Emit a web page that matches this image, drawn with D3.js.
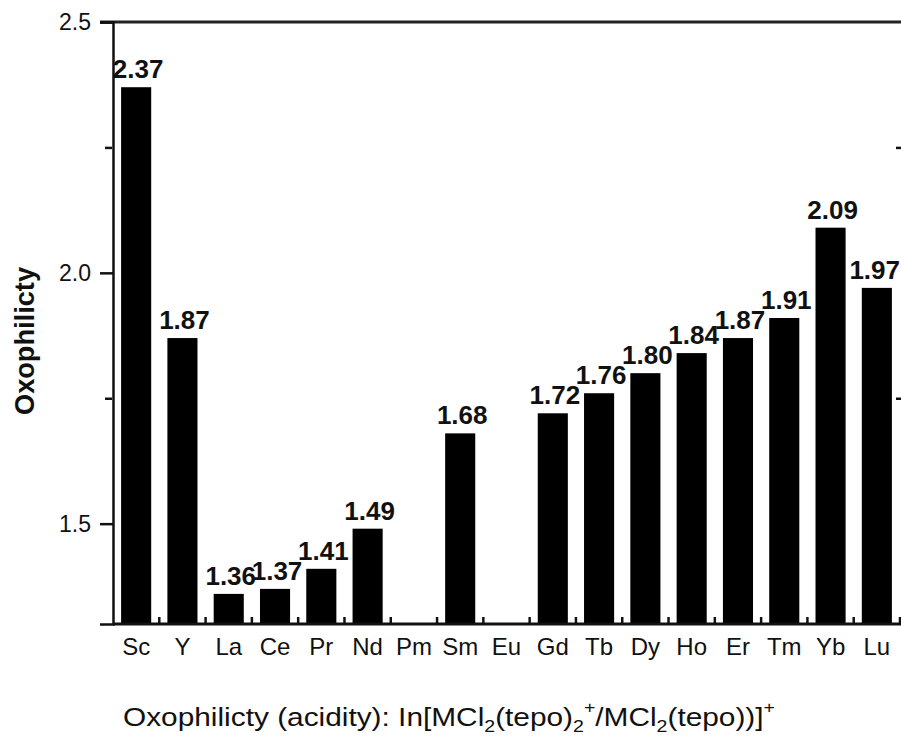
<!DOCTYPE html>
<html>
<head>
<meta charset="utf-8">
<script src="https://cdn.jsdelivr.net/npm/d3@7"></script>
<style>
  body { margin: 0; background: #fff; }
  svg { display: block; font-family: "Liberation Sans", Arial, sans-serif; }
</style>
</head>
<body>
<svg id="chart" width="901" height="736"></svg>
<script>
// data
const elements = ["Sc", "Y", "La", "Ce", "Pr", "Nd", "Pm", "Sm", "Eu", "Gd", "Tb", "Dy", "Ho", "Er", "Tm", "Yb", "Lu"];
const oxophilicity = [2.37, 1.87, 1.36, 1.37, 1.41, 1.49, null, 1.68, null, 1.72, 1.76, 1.80, 1.84, 1.87, 1.91, 2.09, 1.97];
const majorTicks = [1.5, 2.0, 2.5];
const minorTicks = [1.75, 2.25];

const svg = d3.select("#chart");
const plotL = 113, plotR = 900, plotT = 22, plotB = 624;

const x = d3.scaleBand().domain(elements).range([plotL, plotR]).paddingInner(0.35).paddingOuter(0.175);
const y = d3.scaleLinear().domain([1.3, 2.5]).range([plotB, plotT]);

const rows = elements.map((el, i) => ({ el, v: oxophilicity[i] }));

// bars
svg.selectAll(".bar")
  .data(rows.filter(d => d.v !== null))
  .enter()
  .append("rect")
  .attr("class", "bar")
  .attr("fill", "#000")
  .attr("x", d => x(d.el))
  .attr("width", x.bandwidth())
  .attr("y", d => y(d.v))
  .attr("height", d => plotB - y(d.v));

// value labels
const vals = svg.selectAll(".val")
  .data(rows.filter(d => d.v !== null))
  .enter()
  .append("text")
  .attr("class", "val")
  .attr("text-anchor", "middle")
  .attr("font-weight", "bold")
  .attr("font-size", 26)
  .attr("fill", "#111")
  .attr("x", d => x(d.el) + x.bandwidth() / 2 + 2)
  .attr("y", d => y(d.v) - 9)
  .text(d => d3.format(".2f")(d.v));

// keep the last label inside the picture
vals.each(function () {
  const b = this.getBBox();
  const over = b.x + b.width - 900;
  if (over > 0) d3.select(this).attr("x", +d3.select(this).attr("x") - over);
});

// frame: top line and bottom line
svg.append("line").attr("x1", 100).attr("x2", 901).attr("y1", plotT).attr("y2", plotT)
  .attr("stroke", "#222").attr("stroke-width", 3);
svg.append("line").attr("x1", plotL).attr("x2", 901).attr("y1", plotB).attr("y2", plotB)
  .attr("stroke", "#111").attr("stroke-width", 3);

// left axis
const yAxis = svg.append("g").attr("transform", `translate(${plotL},0)`)
  .call(d3.axisLeft(y).tickValues(majorTicks).tickSize(13).tickPadding(9).tickFormat(d3.format(".1f")));
yAxis.select(".domain").attr("stroke", "#111").attr("stroke-width", 2.5);
yAxis.selectAll(".tick line").attr("stroke", "#111").attr("stroke-width", 2.5);
yAxis.selectAll(".tick text").attr("font-size", 23).attr("fill", "#111")
  .attr("font-family", "Liberation Sans, Arial, sans-serif");

const yMinor = svg.append("g").attr("transform", `translate(${plotL - 1},0)`)
  .call(d3.axisLeft(y).tickValues(minorTicks).tickSize(7).tickFormat(""));
yMinor.select(".domain").remove();
yMinor.selectAll(".tick line").attr("stroke", "#111").attr("stroke-width", 2.5);

// right side minor ticks (frame edge cut off)
const yRight = svg.append("g").attr("transform", "translate(902,0)")
  .call(d3.axisRight(y).tickValues(minorTicks).tickSize(-6).tickFormat(""));
yRight.select(".domain").remove();
yRight.selectAll(".tick line").attr("stroke", "#111").attr("stroke-width", 2.5);

// bottom axis labels
const xAxis = svg.append("g").attr("transform", `translate(0,${plotB})`)
  .call(d3.axisBottom(x).tickSize(0).tickPadding(14));
xAxis.select(".domain").remove();
xAxis.selectAll(".tick text").attr("font-size", 24).attr("fill", "#111")
  .attr("font-family", "Liberation Sans, Arial, sans-serif");

// inward ticks between categories
svg.selectAll(".xtick")
  .data(elements)
  .enter()
  .append("line")
  .attr("class", "xtick")
  .attr("x1", d => x(d) + x.bandwidth() + x.step() * x.paddingInner() / 2)
  .attr("x2", d => x(d) + x.bandwidth() + x.step() * x.paddingInner() / 2)
  .attr("y1", plotB)
  .attr("y2", plotB - 7)
  .attr("stroke", "#111")
  .attr("stroke-width", 2.5);

// y title
svg.append("text")
  .attr("transform", "translate(34,341) rotate(-90)")
  .attr("text-anchor", "middle")
  .attr("font-weight", "bold")
  .attr("font-size", 27)
  .attr("textLength", 148)
  .attr("lengthAdjust", "spacingAndGlyphs")
  .attr("fill", "#111")
  .text("Oxophilicty");

// x title
const xt = svg.append("text")
  .attr("x", 123)
  .attr("y", 726)
  .attr("font-size", 26)
  .attr("textLength", 652)
  .attr("lengthAdjust", "spacingAndGlyphs")
  .attr("fill", "#111");
const parts = [
  ["Oxophilicty (acidity): In[MCl", 0, 26],
  ["2", 6, 17],
  ["(tepo)", -6, 26],
  ["2", 6, 17],
  ["+", -19, 17],
  ["/MCl", 13, 26],
  ["2", 6, 17],
  ["(tepo))]", -6, 26],
  ["+", -13, 17]
];
parts.forEach(([t, dy, fs]) => {
  xt.append("tspan").attr("dy", dy).attr("font-size", fs).text(t);
});
</script>
</body>
</html>
